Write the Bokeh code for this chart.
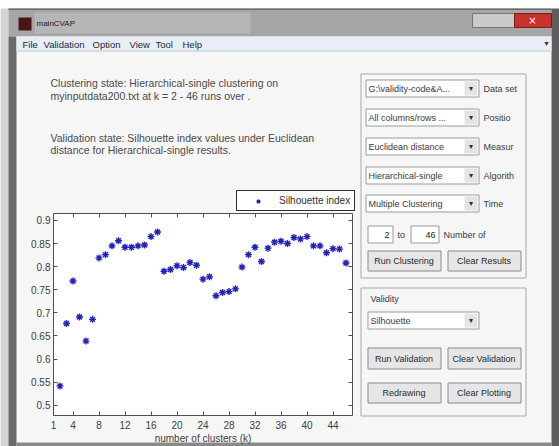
from bokeh.plotting import figure
from bokeh.models import (Range1d, FixedTicker, LinearAxis, Legend, LegendItem,
                          ColumnDataSource)
from bokeh.core.properties import value
from bokeh.embed import file_html
from bokeh.resources import INLINE

# ---------------- data ----------------
k_values = list(range(2, 47))
silhouette = [0.542, 0.677, 0.769, 0.691, 0.639, 0.686, 0.819, 0.826, 0.845, 0.856,
              0.842, 0.842, 0.845, 0.847, 0.865, 0.875, 0.790, 0.794, 0.802, 0.798,
              0.809, 0.803, 0.773, 0.778, 0.737, 0.744, 0.746, 0.752, 0.799, 0.826,
              0.842, 0.811, 0.840, 0.853, 0.855, 0.850, 0.863, 0.860, 0.865, 0.845,
              0.845, 0.830, 0.839, 0.838, 0.808]
x_limits = (1, 47)
y_limits = (0.478, 0.915)
x_ticks = [1, 4, 8, 12, 16, 20, 24, 28, 32, 36, 40, 44]
x_tick_labels = ["1", "4", "8", "12", "16", "20", "24", "28", "32", "36", "40", "44"]
y_ticks = [0.5, 0.55, 0.6, 0.65, 0.7, 0.75, 0.8, 0.85, 0.9]
y_tick_labels = ["0.5", "0.55", "0.6", "0.65", "0.7", "0.75", "0.8", "0.85", "0.9"]
series_name = "Silhouette index"
x_label = "number of clusters (k)"
window_title = "mainCVAP"
menu_items = ["File", "Validation", "Option", "View", "Tool", "Help"]
state_lines = ["Clustering state: Hierarchical-single clustering on",
               "myinputdata200.txt at k = 2 - 46 runs over .",
               "Validation state: Silhouette index values under Euclidean",
               "distance for Hierarchical-single results."]
popup_values = ["G:\\validity-code&A...", "All columns/rows ...", "Euclidean distance",
                "Hierarchical-single", "Multiple Clustering"]
popup_captions = ["Data set", "Positio", "Measur", "Algorith", "Time"]

CLIENT = "#f6f6f6"
FONT = "Liberation Sans"
W, H = 559, 446
# pixel box of the axes inside the window
AX_L, AX_R, AX_T, AX_B = 53, 352, 213, 415

# extra ranges so that the axes box maps onto the data limits
sx = (x_limits[1] - x_limits[0]) / (AX_R - AX_L)
sy = (y_limits[1] - y_limits[0]) / (AX_B - AX_T)
kx_range = Range1d(x_limits[0] - AX_L * sx, x_limits[1] + (W - AX_R) * sx)
sy_range = Range1d(y_limits[0] - (H - AX_B) * sy, y_limits[1] + AX_T * sy)

p = figure(width=W, height=H, x_range=Range1d(0, W), y_range=Range1d(H, 0),
           output_backend="svg", toolbar_location=None, min_border=0,
           x_axis_location=None, y_axis_location=None, title=None)
p.extra_x_ranges = {"kx": kx_range}
p.extra_y_ranges = {"sy": sy_range}
p.xgrid.visible = False
p.ygrid.visible = False
p.outline_line_color = None
p.background_fill_color = CLIENT
p.border_fill_color = CLIENT

def box(x0, y0, x1, y1, fill=None, line=None, lw=1):
    p.quad(left=[x0], right=[x1], top=[y0], bottom=[y1],
           fill_color=fill if fill else None, fill_alpha=1,
           line_color=line if line else None, line_width=lw)

def txt(px, py, s, size=9.5, color="#3a3a3a", align="left", font=FONT):
    p.text(x=[px], y=[py], text=[s], text_font=value(font),
           text_font_size=value(f"{size}px"), text_color=color,
           text_align=align, text_baseline="middle")

# ---------------- window chrome ----------------
box(0, 0, 559, 8, fill="white")
box(0, 8, 8, 446, fill="#d4d4d4")
box(8, 8, 551, 36, fill="#a6a6a6")
box(8, 8, 551, 9.5, fill="#6a6a6a")
box(34, 12, 250, 33, fill="#b6b6b6")
box(8, 36, 16, 446, fill="#6a6a6a")
box(551, 8, 559, 446, fill="#5e5e5e")
box(16, 442, 551, 446, fill="#8a8a8a")
box(18, 17, 31, 30, fill="#4a1414")
txt(36, 23, window_title, size=8, color="#202020")
box(472, 13, 514, 27, fill="#cacaca", line="#777777")
box(514, 13, 551, 27, fill="#c8322c", line="#7a1a1a")
txt(532, 20, "×", size=10, color="white", align="center", font="DejaVu Sans")
box(16, 36, 551, 51, fill="#e8edf6")
box(16, 50, 551, 51, fill="#c4ccd8")
menu_x = [22, 43, 92, 129, 155, 182]
for mx, m in zip(menu_x, menu_items):
    txt(mx, 43.5, m, size=9.5, color="#202a40")
txt(546, 43, "▾", size=8, color="#303030", align="center", font="DejaVu Sans")

for yy, line in zip([82, 95, 137, 149], state_lines):
    txt(50, yy, line, size=10.5, color="#4a4a4a")

# right control panel
box(360.5, 73.5, 525.5, 277.5, line="#a8a8a8")
drop_tops = [79, 108, 137, 166, 194]
for top, val, cap in zip(drop_tops, popup_values, popup_captions):
    box(365.5, top + 0.5, 478.5, top + 17.5, fill="white", line="#9a9a9a")
    box(464, top + 2, 477, top + 16, fill="#e4e4e4")
    txt(368, top + 9, val, size=9, color="#3a3a3a")
    txt(470.5, top + 9, "▾", size=8, color="#303030", align="center", font="DejaVu Sans")
    txt(483, top + 9, cap, size=9, color="#3a3a3a")

box(367.5, 225.5, 392.5, 242.5, fill="white", line="#9a9a9a")
txt(389, 234, "2", size=9, color="#202020", align="right")
txt(397, 234, "to", size=9, color="#3a3a3a")
box(410.5, 225.5, 438.5, 242.5, fill="white", line="#9a9a9a")
txt(435, 234, "46", size=9, color="#202020", align="right")
txt(443, 234, "Number of", size=9, color="#3a3a3a")

def button(x0, y0, x1, y1, label):
    box(x0 + 0.5, y0 + 0.5, x1 + 0.5, y1 + 0.5, fill="#e6e6e6", line="#8a8a8a")
    txt((x0 + x1) / 2, (y0 + y1) / 2 + 0.5, label, size=9, color="#2a2a2a", align="center")

button(367, 250, 440, 270, "Run Clustering")
button(447, 250, 520, 270, "Clear Results")

box(360.5, 287.5, 525.5, 415.5, line="#a8a8a8")
txt(370, 298, "Validity", size=9, color="#3a3a3a")
box(367.5, 311.5, 478.5, 328.5, fill="white", line="#9a9a9a")
box(464, 313, 477, 327, fill="#e4e4e4")
txt(370, 320, "Silhouette", size=9, color="#3a3a3a")
txt(470.5, 320, "▾", size=8, color="#303030", align="center", font="DejaVu Sans")
button(367, 347, 440, 368, "Run Validation")
button(447, 347, 520, 368, "Clear Validation")
button(367, 382, 440, 402, "Redrawing")
button(447, 382, 520, 402, "Clear Plotting")

# white axes background
box(AX_L, AX_T, AX_R, AX_B, fill="white")

# ---------------- the scatter plot ----------------
src = ColumnDataSource(dict(k=k_values, s=silhouette))
r = p.scatter("k", "s", source=src, marker="asterisk", size=7,
              line_color="#2222b8", line_width=1.4,
              x_range_name="kx", y_range_name="sy")

def make_axis(ticks, labels, fixed, bounds, show_labels):
    ax = LinearAxis(x_range_name="kx", y_range_name="sy", fixed_location=fixed,
                    bounds=bounds, ticker=FixedTicker(ticks=ticks))
    ax.major_label_overrides = {t: l for t, l in zip(ticks, labels)}
    ax.major_tick_in = 4
    ax.major_tick_out = 0
    ax.minor_tick_line_color = None
    ax.axis_line_color = "#505050"
    ax.major_tick_line_color = "#505050"
    ax.major_label_text_font = FONT
    ax.major_label_text_font_size = "10px"
    ax.major_label_text_color = "#404040" if show_labels else None
    ax.major_label_standoff = 3
    return ax

x_axis = make_axis(x_ticks, x_tick_labels, y_limits[0], x_limits, True)
x_axis.major_label_standoff = 5
x_axis.axis_label = x_label
x_axis.axis_label_text_font = FONT
x_axis.axis_label_text_font_size = "10px"
x_axis.axis_label_text_font_style = "normal"
x_axis.axis_label_text_color = "#404040"
x_axis.axis_label_standoff = 1
y_axis = make_axis(y_ticks, y_tick_labels, x_limits[0], y_limits, True)
top_axis = make_axis(x_ticks, x_tick_labels, y_limits[1], x_limits, False)
right_axis = make_axis(y_ticks, y_tick_labels, x_limits[1], y_limits, False)
p.add_layout(x_axis, "below")
p.add_layout(y_axis, "left")
p.add_layout(top_axis, "above")
p.add_layout(right_axis, "right")

legend = Legend(items=[LegendItem(label=series_name, renderers=[r])],
                location=(236, H - 211))
legend.border_line_color = "#303030"
legend.border_line_alpha = 1
legend.background_fill_color = "white"
legend.background_fill_alpha = 1
legend.padding = 4
legend.margin = 0
legend.spacing = 0
legend.glyph_width = 34
legend.glyph_height = 10
legend.label_height = 10
legend.label_standoff = 4
legend.label_text_font = FONT
legend.label_text_font_size = "10px"
legend.label_text_color = "#303030"
p.add_layout(legend)

open("out.html", "w").write(file_html(p, INLINE))
